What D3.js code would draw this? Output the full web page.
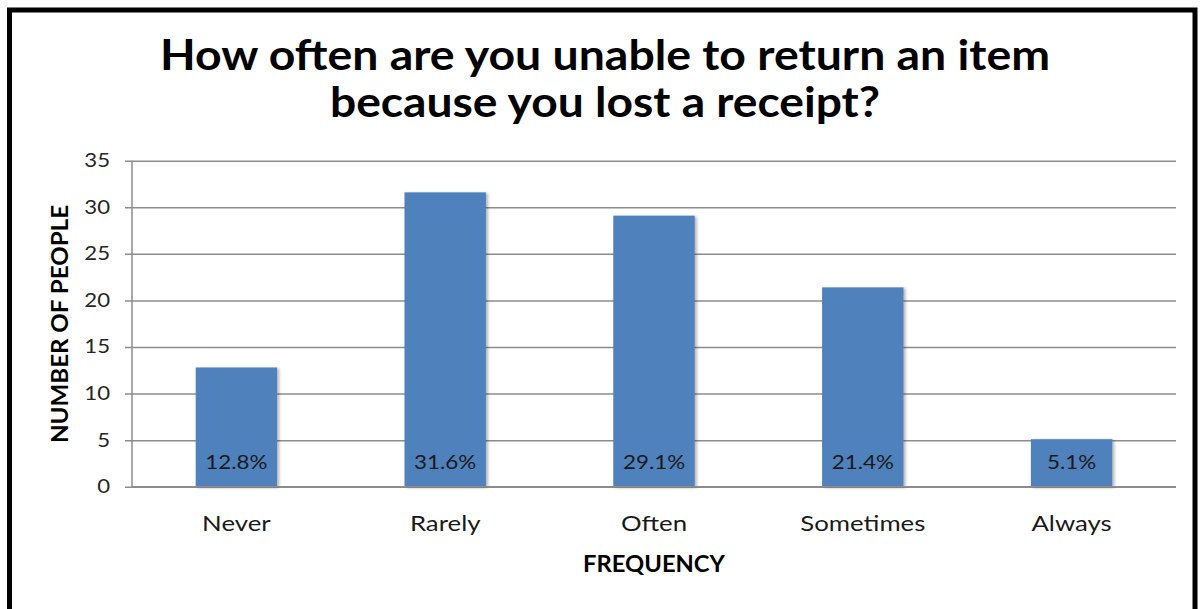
<!DOCTYPE html>
<html>
<head>
<meta charset="utf-8">
<script src="https://cdn.jsdelivr.net/npm/d3@7"></script>
<style>
  body { margin: 0; background: #fff; }
  svg { display: block; }
  text { font-family: Lato, "Open Sans", sans-serif; }
</style>
</head>
<body>
<div id="chart"></div>
<script>
// Chart size
const width = 1203;
const height = 609;

// Data
const categories = ["Never", "Rarely", "Often", "Sometimes", "Always"];
const values = [12.8, 31.6, 29.1, 21.4, 5.1];
const valueLabels = ["12.8%", "31.6%", "29.1%", "21.4%", "5.1%"];
const yTicks = [0, 5, 10, 15, 20, 25, 30, 35];
const titleLines = ["How often are you unable to return an item", "because you lost a receipt?"];

const plot = { left: 132, right: 1176, top: 160.7, bottom: 486.7 };
// the original font runs wider than Lato, so stretch text a bit
const textStretch = 1.2;

let svg = d3.select('#chart').append('svg')
  .attr('width', width)
  .attr('height', height);

// soft shadow like the spreadsheet bars
let defs = svg.append('defs');
defs.append('filter').attr('id', 'shadow')
  .attr('x', '-20%').attr('y', '-20%').attr('width', '140%').attr('height', '140%')
  .append('feDropShadow')
  .attr('dx', 2).attr('dy', 1)
  .attr('stdDeviation', 1.5)
  .attr('flood-color', '#000')
  .attr('flood-opacity', 0.3);

let x = d3.scaleBand()
  .domain(categories)
  .range([plot.left, plot.right])
  .paddingInner(0.61)
  .paddingOuter(0.305);

let y = d3.scaleLinear()
  .domain([0, 35])
  .range([plot.bottom, plot.top]);

// gridlines + y axis
let yAxis = d3.axisLeft(y)
  .tickValues(yTicks)
  .tickSize(-(plot.right - plot.left));

let gy = svg.append('g')
  .attr('transform', `translate(${plot.left},0)`)
  .call(yAxis);
gy.select('.domain').remove();
gy.selectAll('.tick line')
  .attr('x1', -7)
  .attr('stroke', '#8c8c8c')
  .attr('stroke-width', 1.5);
gy.selectAll('.tick text')
  .attr('x', -22 / textStretch)
  .attr('transform', `scale(${textStretch},1)`)
  .attr('fill', '#262626')
  .style('font-size', '18.5px');

// left axis line
svg.append('line')
  .attr('x1', plot.left).attr('x2', plot.left)
  .attr('y1', plot.top).attr('y2', plot.bottom)
  .attr('stroke', '#8c8c8c')
  .attr('stroke-width', 1.5);

// bars
svg.selectAll('.bar')
  .data(values)
  .enter().append('rect')
  .classed('bar', true)
  .attr('x', (d, i) => x(categories[i]))
  .attr('y', d => y(d))
  .attr('width', x.bandwidth())
  .attr('height', d => y(0) - y(d))
  .attr('fill', '#4f81bd')
  .attr('filter', 'url(#shadow)');

// bottom axis line drawn over bars
svg.append('line')
  .attr('x1', plot.left).attr('x2', plot.right)
  .attr('y1', y(0)).attr('y2', y(0))
  .attr('stroke', '#8c8c8c')
  .attr('stroke-width', 1.5);

// value labels, inside base
svg.selectAll('.val')
  .data(valueLabels)
  .enter().append('text')
  .classed('val', true)
  .attr('transform', (d, i) =>
    `translate(${x(categories[i]) + x.bandwidth() / 2},${y(0) - 18}) scale(1.12,1)`)
  .attr('text-anchor', 'middle')
  .attr('fill', '#1a1a1a')
  .style('font-size', '20px')
  .text(d => d);

// category labels
svg.selectAll('.cat')
  .data(categories)
  .enter().append('text')
  .classed('cat', true)
  .attr('transform', d =>
    `translate(${x(d) + x.bandwidth() / 2},531) scale(${textStretch},1)`)
  .attr('text-anchor', 'middle')
  .attr('fill', '#1a1a1a')
  .style('font-size', '21.5px')
  .text(d => d);

// axis titles
svg.append('text')
  .attr('x', (plot.left + plot.right) / 2)
  .attr('y', 572)
  .attr('text-anchor', 'middle')
  .attr('textLength', 142)
  .attr('lengthAdjust', 'spacingAndGlyphs')
  .style('font-size', '22px')
  .style('font-weight', 'bold')
  .attr('fill', '#000')
  .text('FREQUENCY');

svg.append('text')
  .attr('transform', 'translate(68,324) rotate(-90)')
  .attr('text-anchor', 'middle')
  .attr('textLength', 238)
  .attr('lengthAdjust', 'spacingAndGlyphs')
  .style('font-size', '22px')
  .style('font-weight', 'bold')
  .attr('fill', '#000')
  .text('NUMBER OF PEOPLE');

// title
const titleWidths = [890, 550];
svg.selectAll('.title')
  .data(titleLines)
  .enter().append('text')
  .classed('title', true)
  .attr('x', 605)
  .attr('y', (d, i) => 70 + i * 47)
  .attr('text-anchor', 'middle')
  .attr('textLength', (d, i) => titleWidths[i])
  .attr('lengthAdjust', 'spacingAndGlyphs')
  .style('font-size', '42px')
  .style('font-weight', 'bold')
  .attr('fill', '#000')
  .text(d => d);

// outer frame (no bottom edge, cropped)
svg.append('path')
  .attr('d', `M9.5,${height} V10 H1195 V${height}`)
  .attr('fill', 'none')
  .attr('stroke', '#000')
  .attr('stroke-width', 5);
</script>
</body>
</html>
